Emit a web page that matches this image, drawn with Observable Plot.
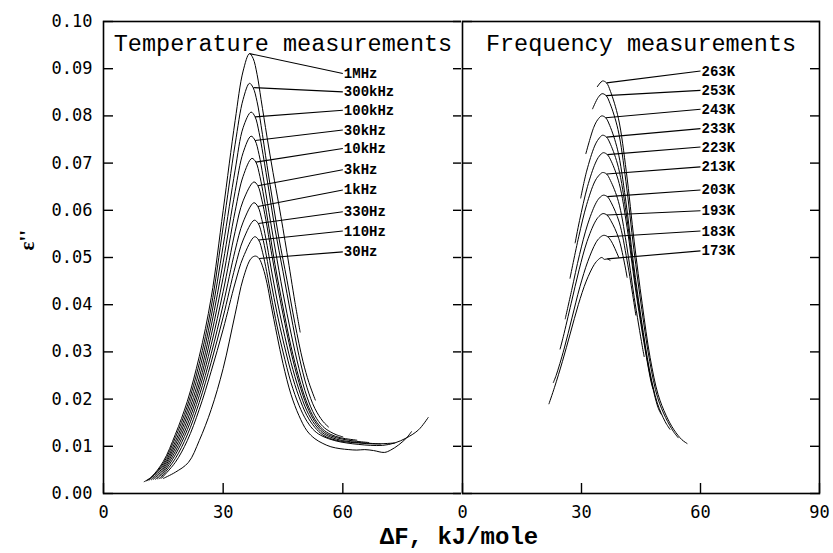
<!DOCTYPE html>
<html><head><meta charset="utf-8">
<script src="https://cdn.jsdelivr.net/npm/d3@7"></script>
<script src="https://cdn.jsdelivr.net/npm/@observablehq/plot@0.6"></script>
<style>
html,body{margin:0;padding:0;background:#fff;}
#wrap{position:relative;width:833px;height:553px;overflow:hidden;background:#fff;}
#left,#right{position:absolute;top:0;}
#left{left:0;}
#right{left:461px;}
#xtitle{position:absolute;top:527px;left:309px;width:300px;height:22px;line-height:22px;text-align:center;font-weight:bold;font-size:24px;font-family:"Liberation Mono",monospace;color:#000;white-space:nowrap;}
</style></head><body>
<div id="wrap"><div id="left"></div><div id="right"></div><div id="xtitle">ΔF, kJ/mole</div></div>
<script>
// ---- axes ----
const yTicks = [0, 0.01, 0.02, 0.03, 0.04, 0.05, 0.06, 0.07, 0.08, 0.09, 0.10];
const xTicksLeft = [0, 30, 60];
const xTicksRight = [0, 30, 60, 90];
const leftTitle = "Temperature measurements";
const rightTitle = "Frequency measurements";
const yTitle = "ε''";

// ---- temperature measurements (left panel): [ΔF, ε''] ----
const tempLabels = ["1MHz", "300kHz", "100kHz", "30kHz", "10kHz", "3kHz", "1kHz", "330Hz", "110Hz", "30Hz"];
const T_1MHz = [[10.2,.0025],[12,.0035],[15,.0068],[18,.0125],[21,.0195],[24,.0290],[27,.0415],[30,.0600],[33,.0790],[35,.0895],[36.6,.0932],[37.5,.0922],[38.5,.0888],[39.5,.0835],[41,.0755],[42.5,.0680],[44,.0610],[46,.0510],[48,.0405],[49.3,.0342]];
const T_300kHz = [[10.8,.0027],[12,.0034],[15,.0064],[18,.0118],[21,.0185],[24,.0275],[27,.0395],[30,.0565],[33,.0740],[35,.0835],[36.6,.0869],[37.5,.0860],[38.5,.0830],[39.5,.0780],[41,.0695],[42.5,.0615],[44,.0540],[46,.0452],[48,.0360],[50,.0280],[51.5,.0235],[53.1,.0198]];
const T_100kHz = [[11.4,.0028],[15,.0060],[18,.0110],[21,.0175],[24,.0260],[27,.0375],[30,.0525],[33,.0685],[35,.0775],[37.0,.0808],[38,.0798],[39,.0765],[40,.0718],[41.5,.0640],[43,.0560],[45,.0470],[47,.0378],[49,.0292],[51,.0225],[53,.0180],[55,.0153],[56.4,.0141]];
const T_30kHz = [[12.0,.0029],[15,.0056],[18,.0103],[21,.0165],[24,.0245],[27,.0355],[30,.0490],[33,.0640],[35,.0722],[37.0,.0757],[38,.0748],[39,.0718],[40,.0672],[41.5,.0595],[43,.0520],[45,.0425],[47,.0340],[49,.0265],[51,.0205],[53,.0165],[55,.0142],[57,.0130],[58.5,.0124],[60,.0120]];
const T_10kHz = [[12.5,.0030],[15,.0052],[18,.0096],[21,.0155],[24,.0232],[27,.0335],[30,.0458],[33,.0598],[35,.0672],[37.2,.0710],[38.2,.0702],[39.2,.0672],[40.2,.0628],[41.5,.0562],[43,.0485],[45,.0395],[47,.0312],[49,.0245],[51,.0192],[53,.0157],[55,.0136],[57,.0125],[59.5,.0118],[63.5,.0113]];
const T_3kHz = [[13.0,.0030],[15,.0048],[18,.0089],[21,.0145],[24,.0220],[27,.0315],[30,.0428],[33,.0555],[35,.0620],[37.7,.0660],[38.7,.0652],[39.7,.0622],[40.7,.0580],[42,.0515],[43.5,.0445],[45,.0380],[47,.0300],[49,.0235],[51,.0185],[53,.0152],[55,.0132],[57,.0122],[60,.0115],[63,.0111],[66.5,.0108]];
const T_1kHz = [[13.5,.0031],[15,.0044],[18,.0082],[21,.0135],[24,.0207],[27,.0296],[30,.0400],[33,.0515],[35,.0575],[37.7,.0616],[38.7,.0608],[39.7,.0580],[40.7,.0540],[42,.0478],[43.5,.0410],[45,.0350],[47,.0278],[49,.0220],[51,.0175],[53,.0146],[55,.0128],[57,.0119],[60,.0112],[64,.0108],[69.5,.0105]];
const T_330Hz = [[14.0,.0031],[15,.0040],[18,.0074],[21,.0124],[24,.0193],[27,.0278],[30,.0374],[33,.0480],[35,.0537],[37.8,.0579],[38.8,.0572],[39.8,.0545],[40.8,.0505],[42,.0448],[43.5,.0382],[45,.0325],[47,.0258],[49,.0205],[51,.0165],[53,.0140],[55,.0124],[57,.0116],[60,.0110],[64,.0107],[68,.0105],[73,.0107]];
const T_110Hz = [[14.5,.0032],[18,.0066],[21,.0112],[24,.0178],[27,.0259],[30,.0348],[33,.0446],[35,.0500],[37.9,.0544],[38.9,.0537],[39.9,.0510],[40.9,.0470],[42,.0420],[43.5,.0355],[45,.0300],[47,.0235],[49,.0187],[51,.0153],[53,.0132],[55,.0121],[58,.0112],[61,.0107],[64,.0104],[67,.0102],[70,.0102],[73,.0107],[76,.0118],[79,.0135],[81.4,.0161]];
const T_30Hz = [[15,.0032],[18,.0045],[21.3,.0066],[24,.0112],[27,.0178],[30,.0265],[33,.0380],[35,.0455],[37,.0498],[38.1,.0503],[39,.0498],[40,.0478],[41,.0445],[42,.0400],[43.5,.0335],[45,.0275],[47,.0210],[49,.0165],[51,.0133],[53,.0116],[55,.0106],[57,.0099],[59.3,.0095],[61.5,.0093],[63.5,.0092],[65.5,.0093],[67.7,.0091],[70.4,.0087],[72,.0092],[74,.0103],[76,.0118],[77.2,.0131]];
const tempCurves = [T_1MHz, T_300kHz, T_100kHz, T_30kHz, T_10kHz, T_3kHz, T_1kHz, T_330Hz, T_110Hz, T_30Hz];
// label annotations (leader from curve point to label)
const tempLeaderX = [36.6, 37.6, 38.0, 38.0, 38.2, 38.7, 38.7, 38.8, 38.9, 39.0];
const tempLeaderV = [.0932, .0860, .0798, .0748, .0702, .0652, .0608, .0572, .0537, .0498];
const tempLabelV = [.0890, .0851, .0812, .0770, .0731, .0686, .0643, .0597, .0556, .0512];

// ---- frequency measurements (right panel): [ΔF, ε''] ----
const freqLabels = ["263K", "253K", "243K", "233K", "223K", "213K", "203K", "193K", "183K", "173K"];
const F_263K = [[34.0,.0862],[35.3,.0874],[36.3,.0870],[37.3,.0852],[39.3,.0795],[41.3,.0682],[43.3,.0533],[45.3,.0402],[47.3,.0288],[49.3,.0210],[51.3,.0166],[53.3,.0135],[55.3,.0114],[56.6,.0106]];
const F_253K = [[32.8,.0815],[34.2,.0839],[35.2,.0847],[36.2,.0843],[37.2,.0826],[39.2,.0771],[41.2,.0661],[43.2,.0517],[45.2,.0390],[47.2,.0280],[49.2,.0203],[51.2,.0161],[53.2,.0131],[54.4,.0118]];
const F_243K = [[31.1,.0720],[33.1,.0776],[34.1,.0792],[35.1,.0800],[36.1,.0796],[37.1,.0780],[39.1,.0728],[41.1,.0624],[43.1,.0488],[45.1,.0368],[47.1,.0264],[49.1,.0192],[51.1,.0152],[52.3,.0136]];
const F_233K = [[29.8,.0626],[31.3,.0683],[33.3,.0736],[34.3,.0751],[35.3,.0759],[36.3,.0755],[37.3,.0740],[39.3,.0691],[41.3,.0592],[43.3,.0463],[45.3,.0349],[47.3,.0250],[49.3,.0182],[50.1,.0168]];
const F_223K = [[28.4,.0531],[29.5,.0578],[31.5,.0650],[33.5,.0700],[34.5,.0715],[35.5,.0722],[36.5,.0718],[37.5,.0704],[39.5,.0657],[41.5,.0563],[43.5,.0440],[45.5,.0332],[47.5,.0238],[48.0,.0222]];
const F_213K = [[27.1,.0456],[29.3,.0544],[31.3,.0612],[33.3,.0660],[34.3,.0673],[35.3,.0680],[36.3,.0677],[37.3,.0663],[39.3,.0619],[41.3,.0530],[43.3,.0415],[45.3,.0313],[45.8,.0290]];
const F_203K = [[25.9,.0370],[27.5,.0430],[29.5,.0506],[31.5,.0569],[33.5,.0613],[34.5,.0626],[35.5,.0632],[36.5,.0629],[37.5,.0616],[39.5,.0575],[41.5,.0493],[43.7,.0378]];
const F_193K = [[24.6,.0306],[25.4,.0332],[27.4,.0403],[29.4,.0474],[31.4,.0534],[33.4,.0575],[34.4,.0587],[35.4,.0593],[36.4,.0590],[37.4,.0578],[39.4,.0540],[41.5,.0458]];
const F_183K = [[22.9,.0235],[23.6,.0250],[25.6,.0306],[27.6,.0372],[29.6,.0438],[31.6,.0492],[33.6,.0531],[34.6,.0542],[35.6,.0547],[36.6,.0544],[37.6,.0533],[39.4,.0500]];
const F_173K = [[21.8,.0190],[23.2,.0225],[25.2,.0280],[27.2,.0340],[29.2,.0400],[31.2,.0450],[33.2,.0485],[34.3,.0496],[35.1,.0500],[35.8,.0496],[36.5,.0497],[37.2,.0494]];
const freqCurves = [F_263K, F_253K, F_243K, F_233K, F_223K, F_213K, F_203K, F_193K, F_183K, F_173K];
const freqLeaderX = [36.3, 36.2, 36.1, 36.3, 36.5, 36.3, 36.5, 36.4, 36.6, 36.5];
const freqLeaderV = [.0870, .0843, .0796, .0755, .0718, .0677, .0629, .0590, .0544, .0497];
const freqLabelV = [.0895, .0854, .0814, .0773, .0734, .0692, .0643, .0599, .0556, .0514];
const labelX = 60;

// ---- build tables ----
function rowsOf(labels, curves) {
  return curves.flatMap((pts, i) => pts.map(([x, v]) => ({series: labels[i], x, v})));
}
function leadersOf(labels, lx, lv, tv) {
  return labels.map((s, i) => ({series: s, x1: lx[i], y1: lv[i], x2: labelX, y2: tv[i]}));
}
const tempRows = rowsOf(tempLabels, tempCurves);
const freqRows = rowsOf(freqLabels, freqCurves);
const tempLeaders = leadersOf(tempLabels, tempLeaderX, tempLeaderV, tempLabelV);
const freqLeaders = leadersOf(freqLabels, freqLeaderX, freqLeaderV, freqLabelV);

const common = {
  height: 553, marginTop: 21, marginBottom: 60,
  x: {domain: [0, 90]},
  y: {domain: [0, 0.1]},
  style: {fontFamily: "'DejaVu Sans Mono', monospace", fontSize: "17px", color: "#000", background: "#fff", overflow: "visible"}
};
const blank = () => "";

function panelMarks(rows, leaders, title) {
  return [
    Plot.frame({strokeWidth: 1.6}),
    Plot.line(rows, {x: "x", y: "v", z: "series", curve: "catmull-rom", stroke: "#000", strokeWidth: 1}),
    Plot.link(leaders, {x1: "x1", y1: "y1", x2: "x2", y2: "y2", stroke: "#000", strokeWidth: 1.1}),
    Plot.text(leaders, {x: "x2", y: "y2", text: "series", textAnchor: "start", dx: 1, fontWeight: "bold", fontFamily: "'Liberation Mono', monospace", fontSize: 14, fill: "#000"}),
    Plot.text([title], {frameAnchor: "top", dy: 13, text: d => d, fontFamily: "'Liberation Mono', monospace", fontSize: 23.5, fill: "#000"})
  ];
}

const left = Plot.plot({
  ...common,
  width: 463, marginLeft: 103, marginRight: 1,
  marks: [
    Plot.axisY(yTicks, {anchor: "left", tickSize: -10, tickPadding: 21, tickFormat: d3.format(".2f"), label: null, strokeWidth: 1.4}),
    Plot.axisY(yTicks, {anchor: "right", tickSize: -10, tickFormat: blank, label: null, strokeWidth: 1.4}),
    Plot.axisX(xTicksLeft, {anchor: "bottom", tickSize: -10, tickPadding: 22, label: null, strokeWidth: 1.4}),
    ...panelMarks(tempRows, tempLeaders, leftTitle),
    Plot.text([yTitle], {frameAnchor: "left", dx: -76, dy: -7, rotate: -90, text: d => d, fontFamily: "'Liberation Serif', serif", fontWeight: "bold", fontSize: 21, fill: "#000"})
  ]
});

const right = Plot.plot({
  ...common,
  width: 372, marginLeft: 1, marginRight: 14,
  marks: [
    Plot.axisY(yTicks, {anchor: "left", tickSize: -10, tickFormat: blank, label: null, strokeWidth: 1.4}),
    Plot.axisY(yTicks, {anchor: "right", tickSize: -10, tickFormat: blank, label: null, strokeWidth: 1.4}),
    Plot.axisX(xTicksRight, {anchor: "bottom", tickSize: -10, tickPadding: 22, label: null, strokeWidth: 1.4}),
    ...panelMarks(freqRows, freqLeaders, rightTitle)
  ]
});

document.getElementById("left").appendChild(left);
document.getElementById("right").appendChild(right);
</script>
</body></html>
